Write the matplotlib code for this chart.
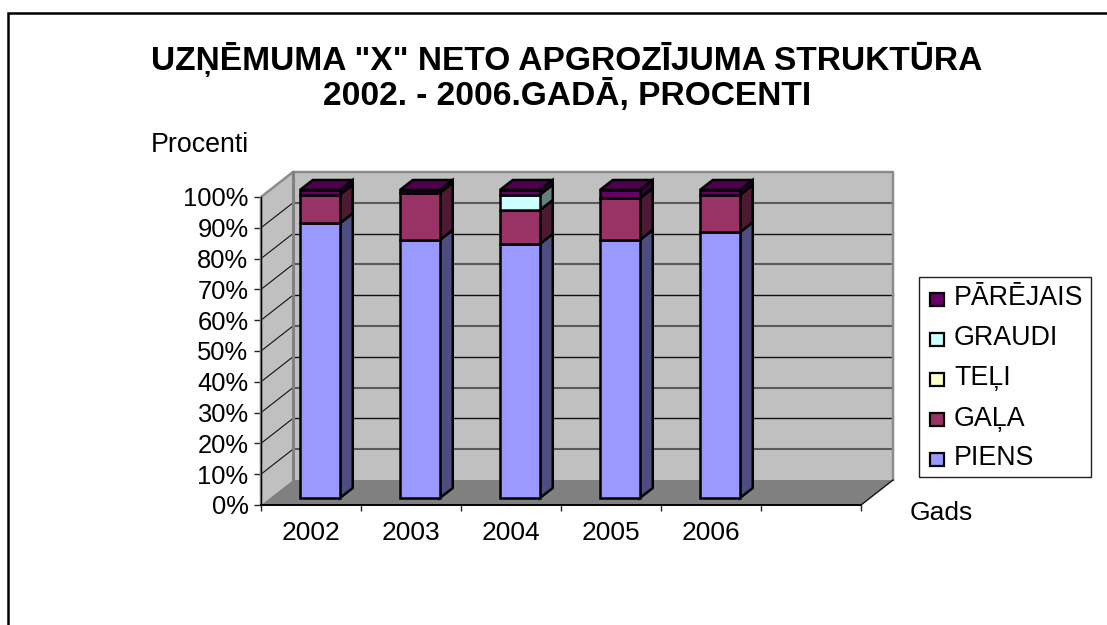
import matplotlib
matplotlib.use('Agg')
import matplotlib.pyplot as plt
from matplotlib.patches import Polygon, Rectangle
from matplotlib.lines import Line2D

years = ['2002', '2003', '2004', '2005', '2006']
series_names = ['PIENS', 'GAĻA', 'TEĻI', 'GRAUDI', 'PĀRĒJAIS']
piens = [89.2, 83.8, 82.5, 83.8, 86.3]
gala = [9.3, 15.3, 11.0, 13.5, 12.1]
teli = [0, 0, 0, 0, 0]
graudi = [0, 0, 5.0, 0, 0]
parejais = [1.5, 0.9, 1.5, 2.7, 1.6]
series = [piens, gala, teli, graudi, parejais]
front_cols = ['#9999FF', '#993366', '#FFFFCC', '#CCFFFF', '#660066']
side_cols = ['#4D4D80', '#4D1A33', '#808066', '#668080', '#330033']
top_cols = ['#4D4D80', '#4D1A33', '#808066', '#668080', '#4D004D']
yticks = list(range(0, 101, 10))

W, H = 1107, 625
plt.rcParams['font.family'] = ['Liberation Sans', 'DejaVu Sans']
fig = plt.figure(figsize=(W/100, H/100), dpi=100)
fig.add_artist(Line2D([7.5/W, 7.5/W, 1.0], [0, 1-13/H, 1-13/H], color='black', lw=1.8,
                      solid_joinstyle='miter', transform=fig.transFigure))

ax = fig.add_axes([261/W, 1-505/H, 600/W, 308/H])
ax.set_xlim(0, 6)
ax.set_ylim(0, 100)
for s in ax.spines.values():
    s.set_visible(False)
ax.patch.set_visible(False)
DX, DY = 0.32, 25/3.08
def P(x, y, d):
    return (x + d*DX, y + d*DY)
def poly(pts, fc, ec='none', lw=0, z=1):
    ax.add_patch(Polygon(pts, closed=True, fc=fc, ec=ec, lw=lw, zorder=z, clip_on=False, joinstyle='miter'))

# walls
poly([P(0,0,0), P(0,0,1), P(0,100,1), P(0,100,0)], '#C0C0C0', z=1)
poly([P(0,0,1), P(6,0,1), P(6,100,1), P(0,100,1)], '#C0C0C0', z=1)
poly([P(0,0,0), P(6,0,0), P(6,0,1), P(0,0,1)], '#808080', z=1)
for v in yticks[1:-1]:
    ax.plot(*zip(P(0,v,0), P(0,v,1)), color='#111111', lw=0.8, zorder=2, clip_on=False)
    col, lw = ('#111111', 1.0) if v % 20 == 0 else ('#5A5A5A', 1.5)
    ax.plot(*zip(P(0,v,1), P(6,v,1)), color=col, lw=lw, zorder=2, clip_on=False)
ax.plot(*zip(P(0,0,0), P(0,100,0), P(0,100,1), P(6,100,1), P(6,0,1)), color='#8C8C8C', lw=1.8, zorder=2, clip_on=False)
ax.plot(*zip(P(0,100,1), P(0,0,1)), color='#808080', lw=2.2, zorder=2, clip_on=False)
ax.plot(*zip(P(6,0,1), P(6,0,0)), color='#111111', lw=1.0, zorder=2, clip_on=False)

# bars
d0, d1 = 0.28, 0.68
hw = 0.2
for i in range(len(years)):
    c = i + 0.5
    base = 0
    stacks = []
    for j, vals in enumerate(series):
        if vals[i] > 0:
            stacks.append((base, base + vals[i], j))
        base += vals[i]
    for b, t, j in stacks:
        xl, xr = c-hw, c+hw
        poly([P(xr,b,d0), P(xr,b,d1), P(xr,t,d1), P(xr,t,d0)], side_cols[j], 'black', 1.8, 4)
        poly([P(xl,b,d0), P(xr,b,d0), P(xr,t,d0), P(xl,t,d0)], front_cols[j], 'black', 1.8, 5)
    b, t, j = stacks[-1]
    poly([P(c-hw,t,d0), P(c+hw,t,d0), P(c+hw,t,d1), P(c-hw,t,d1)], top_cols[j], 'black', 1.8, 5)

# axes lines
ax.set_xticks(range(0, 7))
ax.set_xticklabels([])
ax.set_yticks(yticks)
ax.set_yticklabels([f'{v}%' for v in yticks], fontsize=18.4)
ax.tick_params(axis='y', length=5, width=1, pad=4, color='#222222', direction='out')
ax.tick_params(axis='x', length=4.3, width=1, color='#222222', direction='out')
ax.spines['left'].set_visible(True)
ax.spines['left'].set_linewidth(1)
ax.spines['bottom'].set_visible(True)
ax.spines['bottom'].set_linewidth(1.4)
for i, y in enumerate(years):
    ax.text(i+0.5, -5.3, y, ha='center', va='top', fontsize=19)

def ftext(x, y, s, **kw):
    fig.text(x/W, 1-y/H, s, **kw)
ftext(567, 59, 'UZŅĒMUMA "X" NETO APGROZĪJUMA STRUKTŪRA', ha='center', va='center', fontsize=24.15, fontweight='bold')
ftext(567, 96, '2002. - 2006.GADĀ, PROCENTI', ha='center', va='center', fontsize=24.15, fontweight='bold')
ftext(151, 145, 'Procenti', ha='left', va='center', fontsize=19.3)
ftext(910, 513, 'Gads', ha='left', va='center', fontsize=19)

# legend
fig.add_artist(Rectangle((919/W, 1-477/H), (1091-919)/W, (477-277)/H, fc='white', ec='#222222', lw=1, transform=fig.transFigure))
sw_y = [299, 339.5, 379, 419, 459]
base_y = [305, 345, 385, 425.5, 465]
for k, j in enumerate([4, 3, 2, 1, 0]):
    y = sw_y[k]
    fig.add_artist(Rectangle((930/W, 1-(y+6.5)/H), 14/W, 13/H, fc=front_cols[j], ec='black', lw=1.6, transform=fig.transFigure))
    ftext(954, base_y[k], series_names[j], ha='left', va='baseline', fontsize=19.3)

fig.savefig('out.png', dpi=100)
